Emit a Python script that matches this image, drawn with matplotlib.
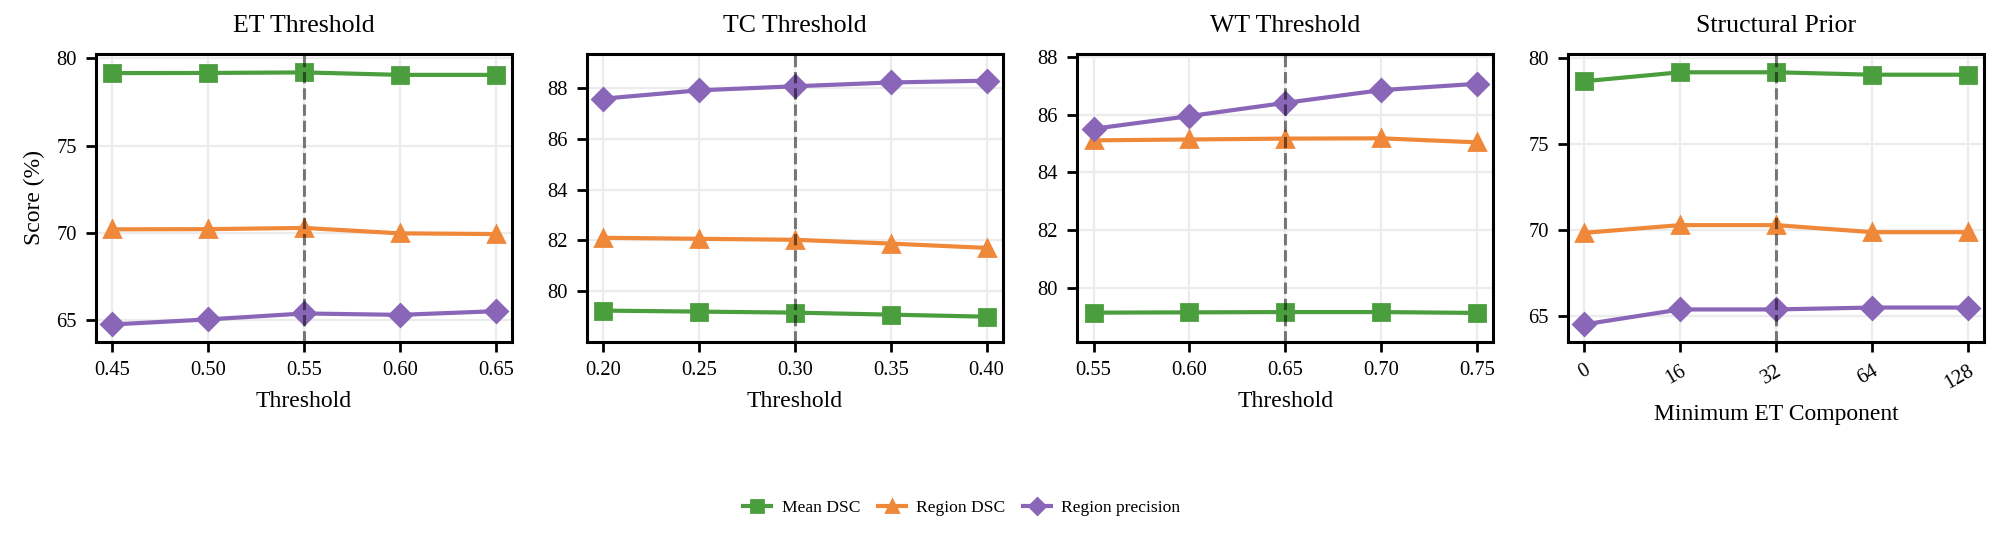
import numpy as np
import matplotlib.pyplot as plt

plt.rcParams['font.family'] = ['Liberation Serif', 'DejaVu Serif']
plt.rcParams['mathtext.fontset'] = 'stix'

series_names = ['Mean DSC', 'Region DSC', 'Region precision']
colors = ['#4b9e3d', '#f0883a', '#8a66b8']
markers = ['s', '^', 'D']

titles = ['ET Threshold', 'TC Threshold', 'WT Threshold', 'Structural Prior']
xlabels = ['Threshold', 'Threshold', 'Threshold', 'Minimum ET Component']

et_x = [0.45, 0.50, 0.55, 0.60, 0.65]
et_mean = [79.14, 79.15, 79.18, 79.04, 79.04]
et_region = [70.21, 70.22, 70.29, 69.98, 69.94]
et_prec = [64.77, 65.06, 65.40, 65.32, 65.53]

tc_x = [0.20, 0.25, 0.30, 0.35, 0.40]
tc_mean = [79.23, 79.19, 79.15, 79.07, 78.99]
tc_region = [82.10, 82.06, 82.02, 81.87, 81.70]
tc_prec = [87.58, 87.91, 88.07, 88.22, 88.29]

wt_x = [0.55, 0.60, 0.65, 0.70, 0.75]
wt_mean = [79.14, 79.15, 79.16, 79.16, 79.13]
wt_region = [85.11, 85.14, 85.17, 85.18, 85.04]
wt_prec = [85.51, 85.95, 86.41, 86.85, 87.07]

sp_labels = ['0', '16', '32', '64', '128']
sp_mean = [78.65, 79.17, 79.17, 79.03, 79.03]
sp_region = [69.84, 70.29, 70.29, 69.88, 69.88]
sp_prec = [64.52, 65.39, 65.39, 65.50, 65.50]

chosen = [0.55, 0.30, 0.65, 2]

fig, axes = plt.subplots(1, 4, figsize=(10.02, 2.73), dpi=200)
fig.subplots_adjust(left=0.048, right=0.990, top=0.901, bottom=0.374, wspace=0.18)

panels = [
    (et_x, [et_mean, et_region, et_prec]),
    (tc_x, [tc_mean, tc_region, tc_prec]),
    (wt_x, [wt_mean, wt_region, wt_prec]),
    (list(range(len(sp_labels))), [sp_mean, sp_region, sp_prec]),
]
ylims = [(63.78, 80.23), (78.0, 89.34), (78.13, 88.10), (63.51, 80.23)]
yticks = [[65, 70, 75, 80], [80, 82, 84, 86, 88], [80, 82, 84, 86, 88], [65, 70, 75, 80]]

for i, (ax, (x, ys)) in enumerate(zip(axes, panels)):
    for y, name, c, m in zip(ys, series_names, colors, markers):
        ax.plot(x, y, color=c, marker=m, markersize=5.5, linewidth=1.5, label=name)
    ax.axvline(chosen[i], color='black', linestyle='--', linewidth=1.1, alpha=0.5)
    ax.grid(True, color='#ececec', linewidth=0.8)
    ax.set_axisbelow(True)
    span = x[-1] - x[0]
    ax.set_xlim(x[0] - span * 0.0417, x[-1] + span * 0.0417)
    ax.set_ylim(*ylims[i])
    ax.set_yticks(yticks[i])
    ax.set_xticks(x)
    ax.set_title(titles[i], fontsize=9.3, pad=8)
    ax.set_xlabel(xlabels[i], fontsize=8.5)
    ax.tick_params(labelsize=7.4, width=1.0, length=3.5)
    for s in ax.spines.values():
        s.set_linewidth(1.1)
    if i < 3:
        ax.set_xticklabels(['%.2f' % v for v in x])

axes[3].set_xticklabels(sp_labels, rotation=30, ha='right', rotation_mode='anchor')
axes[0].set_ylabel('Score (%)', fontsize=8.5)

handles, labels = axes[0].get_legend_handles_labels()
fig.legend(handles, labels, loc='center', bbox_to_anchor=(0.48, 0.07), ncol=3,
           frameon=False, fontsize=6.3, markerscale=0.75, handlelength=1.6,
           handletextpad=0.6, columnspacing=1.0)

fig.savefig('out.png', dpi=200)
